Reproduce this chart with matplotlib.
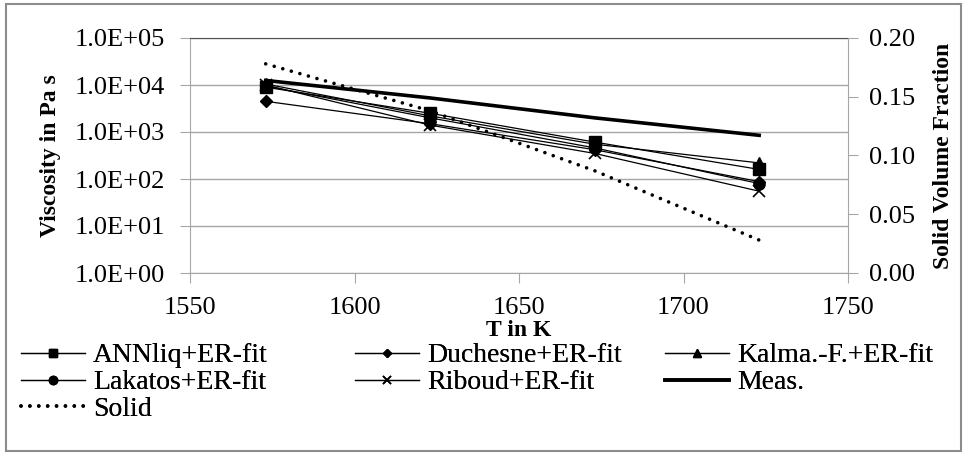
import math
import matplotlib
matplotlib.use("Agg")
import matplotlib.pyplot as plt
from matplotlib.ticker import FixedLocator, FuncFormatter, NullLocator
from matplotlib.patches import Rectangle

plt.rcParams['font.family'] = ['Liberation Serif', 'DejaVu Serif']

T = [1573, 1623, 1673, 1723]
annliq = [9000, 2500, 610, 160]
duchesne = [4500, 1500, 420, 88]
kalma = [10500, 2200, 550, 220]
lakatos = [9500, 2000, 460, 80]
riboud = [10000, 1400, 350, 55]
meas = [12500, 5300, 2000, 850]
solid = [0.178, 0.138, 0.087, 0.028]

x_ticks = [1550, 1600, 1650, 1700, 1750]
y_ticks = [1e0, 1e1, 1e2, 1e3, 1e4, 1e5]
y2_ticks = [0.00, 0.05, 0.10, 0.15, 0.20]

W, H = 963, 454
fig = plt.figure(figsize=(W / 100, H / 100), dpi=100)
fig.patches.append(Rectangle((6 / W, 3 / H), 955 / W, 447 / H, transform=fig.transFigure,
                             fill=False, edgecolor='#8c8c8c', linewidth=1.5))

L, R, TOP, BOT = 190, 848, 38, 273
ax = fig.add_axes([L / W, 1 - BOT / H, (R - L) / W, (BOT - TOP) / H])
ax.set_yscale('log')
ax.set_xlim(1550, 1750)
ax.set_ylim(1, 1e5)
grid_c = '#a6a6a6'
ax.spines['right'].set_visible(False)
ax.spines['top'].set_color('#505050')
for s in ['left', 'bottom']:
    ax.spines[s].set_color(grid_c)
ax.yaxis.set_major_locator(FixedLocator(y_ticks))
ax.yaxis.set_minor_locator(NullLocator())
ax.yaxis.set_major_formatter(FuncFormatter(lambda v, p: '1.0E+%02d' % round(math.log10(v))))
ax.xaxis.set_major_locator(FixedLocator(x_ticks))
ax.grid(axis='y', color=grid_c, linewidth=1)
ax.set_axisbelow(True)
ax.tick_params(axis='both', colors=grid_c, labelcolor='black', labelsize=19, length=7, direction='out')
ax.tick_params(axis='y', pad=11)
ax.tick_params(axis='x', pad=10)
ax.set_xlabel('T in K', fontsize=17, fontweight='bold', labelpad=1)
ax.set_ylabel('Viscosity in Pa s', fontsize=17, fontweight='bold', labelpad=10)

kw = dict(color='black', linewidth=0.9)
h1, = ax.plot(T, annliq, marker='s', markersize=8, label='ANNliq+ER-fit', **kw)
h2, = ax.plot(T, duchesne, marker='D', markersize=6, label='Duchesne+ER-fit', **kw)
h3, = ax.plot(T, kalma, marker='^', markersize=8, label='Kalma.-F.+ER-fit', **kw)
h4, = ax.plot(T, lakatos, marker='o', markersize=8, label='Lakatos+ER-fit', **kw)
h5, = ax.plot(T, riboud, marker='x', markersize=8, markeredgewidth=1.2, label='Riboud+ER-fit', **kw)
h6, = ax.plot(T, meas, color='black', linewidth=2.6, label='Meas.')

ax2 = ax.twinx()
ax2.set_ylim(0, 0.2)
ax2.yaxis.set_major_locator(FixedLocator(y2_ticks))
ax2.yaxis.set_major_formatter(FuncFormatter(lambda v, p: '%.2f' % v))
for s in ['top', 'left', 'bottom']:
    ax2.spines[s].set_visible(False)
ax2.spines['right'].set_color(grid_c)
ax2.tick_params(axis='y', colors=grid_c, labelcolor='black', labelsize=19, length=7, pad=8)
ax2.set_ylabel('Solid Volume Fraction', fontsize=17, fontweight='bold', labelpad=13)
h7, = ax2.plot(T, solid, color='black', linewidth=2.6, linestyle=(0, (0.01, 2.45)),
               dash_capstyle='round', label='Solid')

cols = [([h1, h4, h7], 21), ([h2, h5], 355), ([h3, h6], 665)]
for handles, x0 in cols:
    leg = fig.legend(handles=handles, loc='upper left', bbox_to_anchor=(x0 / W, 1 - 343 / H),
                     frameon=False, fontsize=20, handlelength=2.3, handletextpad=0.3,
                     labelspacing=0.05, borderaxespad=0, borderpad=0, markerscale=0.75)
    fig.add_artist(leg)

fig.savefig('out.png', dpi=100)
